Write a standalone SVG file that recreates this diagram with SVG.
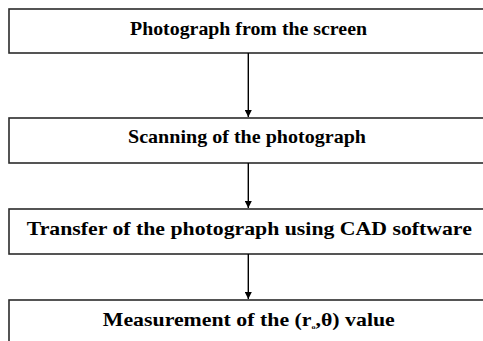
<svg xmlns="http://www.w3.org/2000/svg" width="483" height="341" viewBox="0 0 483 341">
<defs>
<style>
.box{fill:#fff;stroke:#2b2b2b;stroke-width:1.6}
.lbl{font-family:"Liberation Serif","Times New Roman",serif;font-weight:bold;font-size:19px;fill:#000;text-anchor:middle}
.con{stroke:#000;stroke-width:1.4;fill:none}
</style>
<marker id="ah" viewBox="0 0 10 10" refX="10" refY="5" markerWidth="7" markerHeight="7" markerUnits="userSpaceOnUse" orient="auto">
<path d="M0,0 L10,5 L0,10 z" fill="#000"/>
</marker>
</defs>
<rect width="483" height="341" fill="#fff"/>
<g id="n1"><rect class="box" x="9" y="9" width="480" height="44"/><text class="lbl" x="248.5" y="35" textLength="237" lengthAdjust="spacingAndGlyphs">Photograph from the screen</text></g>
<g id="n2"><rect class="box" x="9" y="118" width="480" height="45"/><text class="lbl" x="247" y="142.5" textLength="238" lengthAdjust="spacingAndGlyphs">Scanning of the photograph</text></g>
<g id="n3"><rect class="box" x="9" y="209" width="480" height="45"/><text class="lbl" x="249.3" y="234.7" textLength="445" lengthAdjust="spacingAndGlyphs">Transfer of the photograph using CAD software</text></g>
<g id="n4"><rect class="box" x="9" y="300" width="480" height="50"/><text class="lbl" x="248.8" y="326" textLength="292" lengthAdjust="spacingAndGlyphs">Measurement of the (r<tspan font-size="7" dy="3">o</tspan><tspan dy="-3">,θ) value</tspan></text></g>
<g id="connectors">
<line class="con" x1="248.3" y1="53" x2="248.3" y2="117" marker-end="url(#ah)"/>
<line class="con" x1="248.3" y1="163" x2="248.3" y2="208" marker-end="url(#ah)"/>
<line class="con" x1="248.3" y1="254" x2="248.3" y2="299" marker-end="url(#ah)"/>
</g>
</svg>
